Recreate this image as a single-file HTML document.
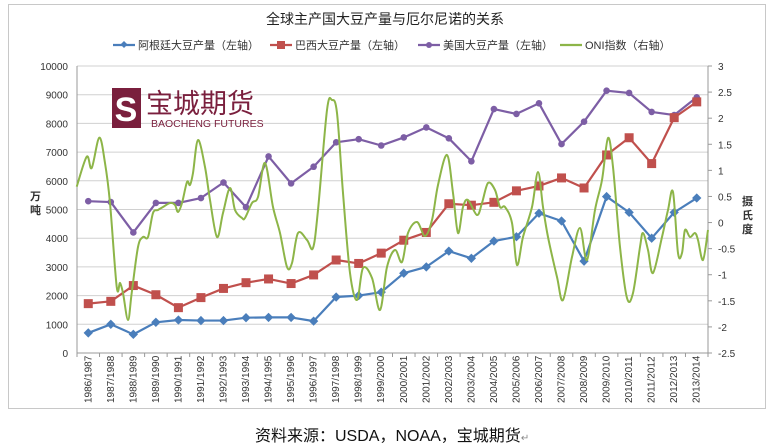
<!DOCTYPE html>
<html><head><meta charset="utf-8"><style>
html,body{margin:0;padding:0;background:#fff;width:770px;height:448px;overflow:hidden}
svg{display:block}
text{font-family:"Liberation Sans","Noto Sans CJK SC",sans-serif}
</style></head><body>
<svg id="s" width="770" height="448" xmlns="http://www.w3.org/2000/svg">
<rect x="8.5" y="4.5" width="757" height="404" fill="#fff" stroke="#c8c8c8"/>
<text x="385" y="24" font-size="14" text-anchor="middle" fill="#222">全球主产国大豆产量与厄尔尼诺的关系</text>
<g id="g"></g>
<text x="255" y="441" font-size="16" fill="#111">资料来源：USDA，NOAA，宝城期货<tspan font-size="10" fill="#888">↵</tspan></text>
</svg>
<script>
var g=document.getElementById('g'),h='';
var L=77,R=708,T=66,B=353,W=(R-L)/28;
function yl(v){return B-(v/10000)*(B-T)}
for(var i=0;i<=10;i++){var y=yl(i*1000);
 if(i>0)h+='<line x1="'+L+'" x2="'+R+'" y1="'+y+'" y2="'+y+'" stroke="#d0d0d0"/>';
 h+='<text x="'+(L-9)+'" y="'+(y+4)+'" font-size="10" text-anchor="end" fill="#333">'+(i*1000)+'</text>';}
for(var i=0;i<12;i++){var v=3-i*0.5,y=T+i*(B-T)/11;
 h+='<line x1="'+R+'" x2="'+(R+4)+'" y1="'+y+'" y2="'+y+'" stroke="#999"/>';
 h+='<text x="'+(R+10)+'" y="'+(y+4)+'" font-size="10" fill="#333">'+v+'</text>';}
h+='<line x1="'+L+'" x2="'+L+'" y1="'+T+'" y2="'+B+'" stroke="#999"/><line x1="'+R+'" x2="'+R+'" y1="'+T+'" y2="'+B+'" stroke="#999"/><line x1="'+L+'" x2="'+R+'" y1="'+B+'" y2="'+B+'" stroke="#999"/>';
for(var i=0;i<=28;i++){var x=L+i*W;h+='<line x1="'+x+'" x2="'+x+'" y1="'+B+'" y2="'+(B+4)+'" stroke="#999"/>';}
for(var i=0;i<28;i++){var x=L+(i+0.5)*W+3,a=1986+i;
 h+='<text transform="translate('+x+',403) rotate(-90)" font-size="10" fill="#333">'+a+'/'+(a+1)+'</text>';}
h+='<text x="30" y="200" font-size="11" font-weight="bold" fill="#333">万</text><text x="30" y="214" font-size="11" font-weight="bold" fill="#333">吨</text>';
h+='<text x="742" y="205" font-size="11" font-weight="bold" fill="#333">摄</text><text x="742" y="219" font-size="11" font-weight="bold" fill="#333">氏</text><text x="742" y="233" font-size="11" font-weight="bold" fill="#333">度</text>';
// logo
h+='<rect x="112" y="88" width="29" height="40" fill="#7a1f3d"/><text x="126" y="121" font-size="34" font-weight="bold" fill="#fff" text-anchor="middle" font-family="Liberation Serif,serif">S</text>';
h+='<text x="146" y="113" font-size="27" fill="#7a1f3d" font-family="Noto Serif CJK SC,serif">宝城期货</text><text x="151" y="127" font-size="10.5" fill="#7a1f3d">BAOCHENG FUTURES</text>';
// ONI
var P=[[76.7,186.7],[86.7,156.7],[91.7,168],[99.3,137.7],[105,163],[110,203],[116.7,286.7],[120,283],[123,293],[128,320],[131.7,293],[138,247],[143,237],[148,237],[153,213],[158,210],[163,207],[170,203],[175,205],[178,212],[182,203],[187,182],[190,185],[193,173],[198,140],[205,167],[210,200],[217,237],[223,213],[230,188],[235,210],[242,218],[245,218],[252,203],[258,197],[265,163],[273,207],[280,233],[287,267],[292,263],[298,233],[307,240],[313,248],[318,210],[327,110],[332,100],[337,113],[343,193],[350,273],[357,300],[363,268],[372,278],[380,310],[387,267],[395,250],[402,262],[408,233],[417,222],[425,236],[432,220],[438,185],[447,155],[453,193],[458,233],[463,207],[468,200],[477,215],[482,203],[488,183],[495,190],[500,207],[505,207],[512,223],[517,265],[523,237],[532,207],[538,172],[543,207],[548,237],[557,277],[563,300],[572,257],[580,228],[587,260],[595,210],[602,180],[608,138],[613,167],[620,247],[627,298],[633,293],[640,247],[643,233],[648,250],[653,273],[662,237],[668,210],[673,192],[678,253],[682,253],[685,230],[690,237],[695,233],[698,240],[703,260],[708,230]];
var d='M'+P[0][0]+','+P[0][1];
for(var i=0;i<P.length-1;i++){var p0=P[Math.max(0,i-1)],p1=P[i],p2=P[i+1],p3=P[Math.min(P.length-1,i+2)];
 d+=' C'+(p1[0]+(p2[0]-p0[0])/6)+','+(p1[1]+(p2[1]-p0[1])/6)+' '+(p2[0]-(p3[0]-p1[0])/6)+','+(p2[1]-(p3[1]-p1[1])/6)+' '+p2[0]+','+p2[1];}
var oni='<path d="'+d+'" fill="none" stroke="#8db548" stroke-width="2"/>';
var AR=[700,1000,650,1070,1150,1130,1130,1230,1240,1240,1110,1950,2000,2120,2780,3000,3550,3300,3900,4050,4870,4600,3200,5450,4900,4000,4900,5400];
var BR=[1720,1800,2350,2030,1580,1930,2250,2450,2580,2420,2720,3240,3120,3480,3930,4200,5200,5150,5250,5650,5820,6100,5750,6900,7500,6600,8200,8750];
var US=[5290,5260,4200,5230,5230,5400,5940,5080,6850,5910,6490,7340,7450,7230,7510,7860,7480,6680,8500,8330,8700,7280,8060,9140,9060,8400,8290,8910];
function ser(a,c,m){var s='',pts=a.map(function(v,i){return [L+(i+0.5)*W,yl(v)]});
 s+='<polyline points="'+pts.join(' ')+'" fill="none" stroke="'+c+'" stroke-width="2.2" stroke-linejoin="round"/>';
 pts.forEach(function(p){if(m=='sq')s+='<rect x="'+(p[0]-4.5)+'" y="'+(p[1]-4.5)+'" width="9" height="9" fill="'+c+'"/>';
 else if(m=='d')s+='<rect x="'+(p[0]-3.3)+'" y="'+(p[1]-3.3)+'" width="6.6" height="6.6" fill="'+c+'" transform="rotate(45 '+p[0]+' '+p[1]+')"/>';
 else s+='<circle cx="'+p[0]+'" cy="'+p[1]+'" r="3.3" fill="'+c+'"/>';});return s;}
h+=ser(US,'#7d5ea5','c')+ser(BR,'#c0504d','sq')+ser(AR,'#4a7ebb','d')+oni;
// legend
function lg(x,c,m,t){var s='<line x1="'+x+'" x2="'+(x+22)+'" y1="45" y2="45" stroke="'+c+'" stroke-width="2.2"/>';
 if(m=='sq')s+='<rect x="'+(x+7)+'" y="41" width="8" height="8" fill="'+c+'"/>';else if(m=='d')s+='<rect x="'+(x+8.5)+'" y="42" width="5" height="5" fill="'+c+'" transform="rotate(45 '+(x+11)+' 44.5)"/>';else if(m=='c')s+='<circle cx="'+(x+11)+'" cy="45" r="3" fill="'+c+'"/>';
 return s+'<text x="'+(x+25)+'" y="49" font-size="11" fill="#333">'+t+'</text>';}
h+=lg(113,'#4a7ebb','d','阿根廷大豆产量（左轴）')+lg(270,'#c0504d','sq','巴西大豆产量（左轴）')+lg(418,'#7d5ea5','c','美国大豆产量（左轴）')+lg(560,'#8db548','','ONI指数（右轴）');
g.innerHTML=h;
</script>
</body></html>
